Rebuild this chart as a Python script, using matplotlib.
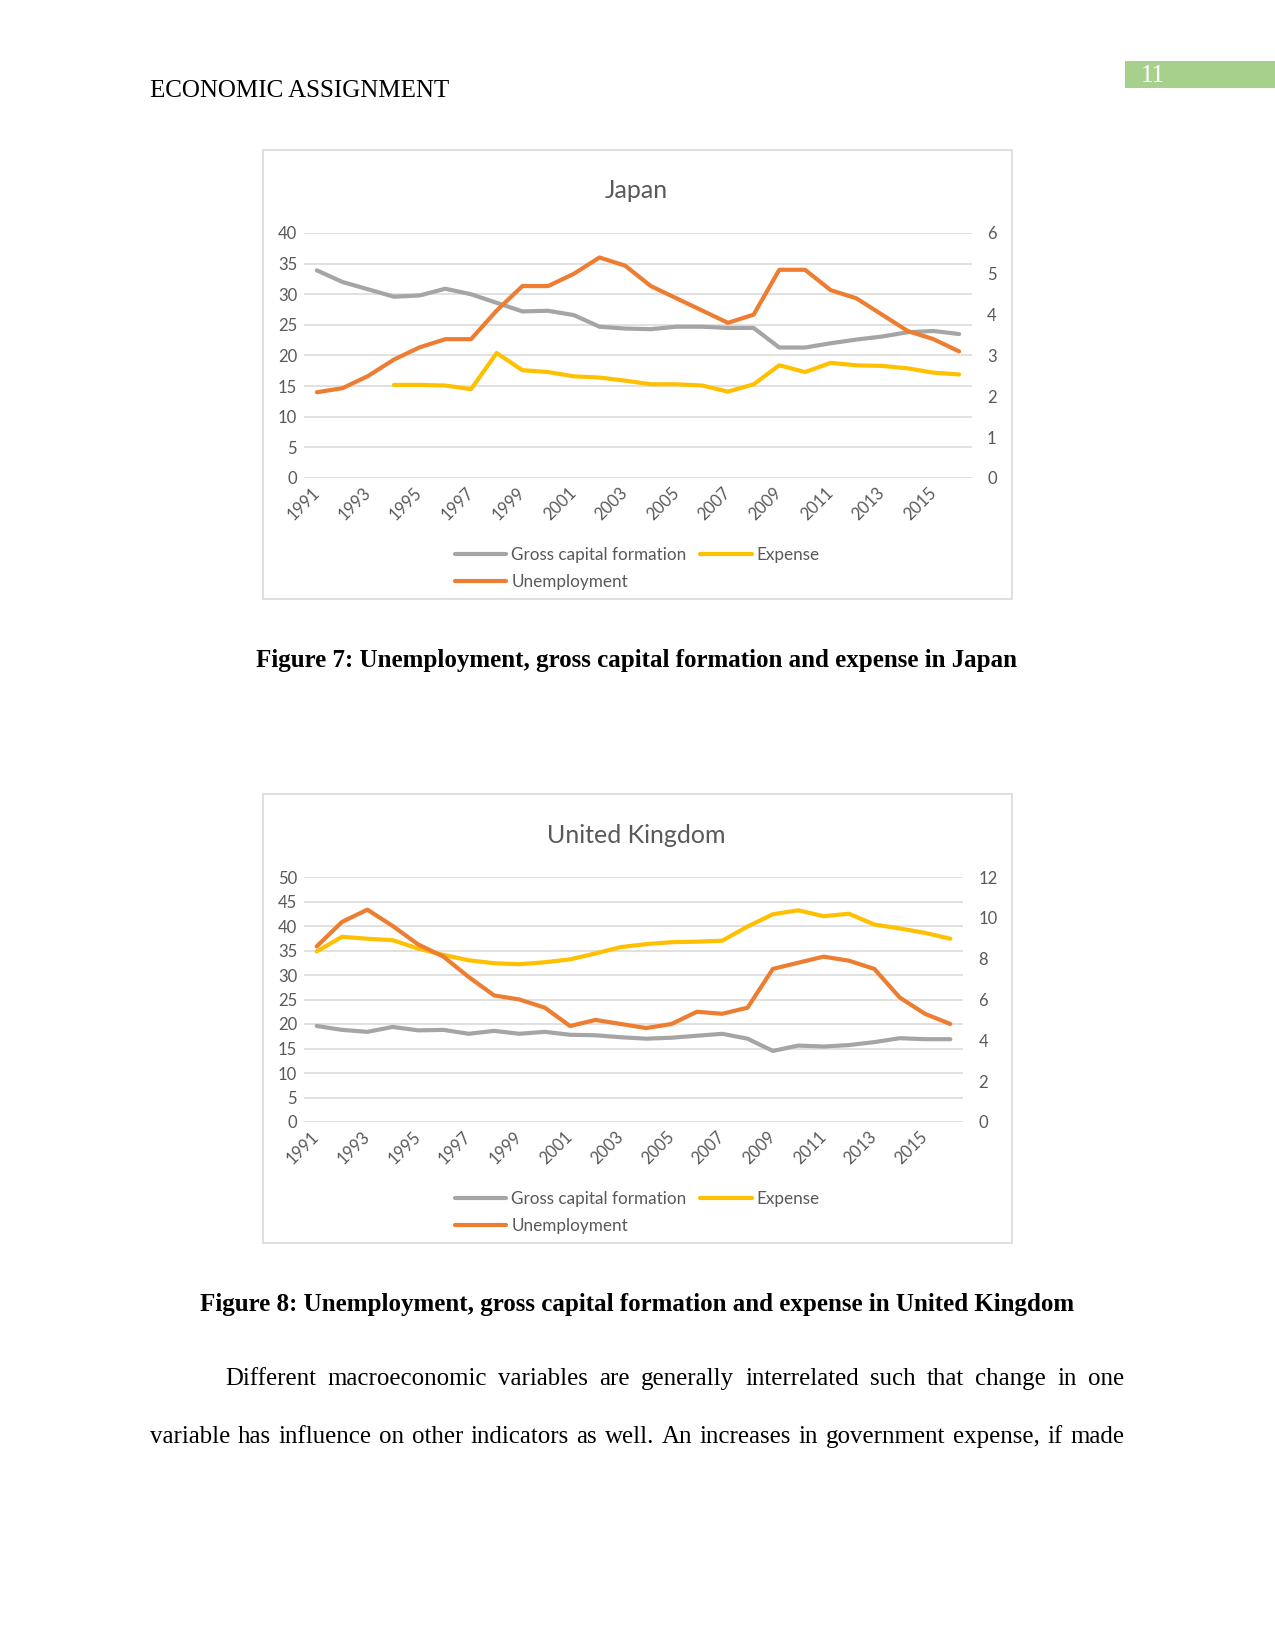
import matplotlib
matplotlib.use("Agg")
import matplotlib.pyplot as plt
from matplotlib.patches import Rectangle
import numpy as np

nan = np.nan
years = list(range(1991, 2017))
year_labels = [str(y) for y in range(1991, 2016, 2)]

jp_gcf = [33.9, 32.0, 30.8, 29.6, 29.8, 30.9, 30.0, 28.6, 27.2, 27.3, 26.6, 24.7, 24.4,
          24.3, 24.7, 24.7, 24.5, 24.5, 21.3, 21.3, 22.0, 22.6, 23.1, 23.8, 24.0, 23.5]
jp_expense = [nan, nan, nan, 15.2, 15.2, 15.1, 14.5, 20.4, 17.6, 17.3, 16.6, 16.4, 15.9,
              15.3, 15.3, 15.1, 14.1, 15.3, 18.4, 17.3, 18.8, 18.4, 18.3, 17.9, 17.2, 16.9]
jp_unemp = [2.1, 2.2, 2.5, 2.9, 3.2, 3.4, 3.4, 4.1, 4.7, 4.7, 5.0, 5.4, 5.2,
            4.7, 4.4, 4.1, 3.8, 4.0, 5.1, 5.1, 4.6, 4.4, 4.0, 3.6, 3.4, 3.1]

uk_gcf = [19.6, 18.8, 18.4, 19.4, 18.7, 18.8, 18.0, 18.6, 18.0, 18.4, 17.8, 17.7, 17.3,
          17.0, 17.2, 17.6, 18.0, 17.0, 14.5, 15.6, 15.4, 15.7, 16.3, 17.1, 16.9, 16.9]
uk_expense = [34.8, 37.8, 37.4, 37.1, 35.4, 34.1, 33.0, 32.4, 32.2, 32.6, 33.2, 34.4, 35.7,
              36.3, 36.7, 36.8, 37.0, 39.9, 42.4, 43.2, 42.0, 42.5, 40.3, 39.5, 38.6, 37.4]
uk_unemp = [8.6, 9.8, 10.4, 9.6, 8.7, 8.1, 7.1, 6.2, 6.0, 5.6, 4.7, 5.0, 4.8,
            4.6, 4.8, 5.4, 5.3, 5.6, 7.5, 7.8, 8.1, 7.9, 7.5, 6.1, 5.3, 4.8]

series_names = ["Gross capital formation", "Expense", "Unemployment"]
header_text = "ECONOMIC ASSIGNMENT"
page_number = "11"
caption7 = "Figure 7: Unemployment, gross capital formation and expense in Japan"
caption8 = "Figure 8: Unemployment, gross capital formation and expense in United Kingdom"
body_line1 = "Different macroeconomic variables are generally interrelated such that change in one"
body_line2 = "variable has influence on other indicators as well. An increases in government expense, if made"

W, H = 1275, 1650
C_GRAY, C_YEL, C_ORG = "#a5a5a5", "#ffc000", "#ed7d31"
TXT = "#595959"
GRID = "#d9d9d9"
SANS = "Lato"
SERIF = "Liberation Serif"

fig = plt.figure(figsize=(W / 100, H / 100), dpi=100)
fig.patch.set_facecolor("white")
renderer = fig.canvas.get_renderer()


def fy(y):
    return 1 - y / H


def fit_text(s, x, y, width, ha="left", weight="normal", color="black", base=18):
    t = fig.text(x / W, fy(y), s, fontsize=base, family=SERIF, weight=weight,
                 ha=ha, va="center", color=color)
    w = t.get_window_extent(renderer).width
    t.set_fontsize(base * width / w)
    return t


def justify(s, x0, x1, y, fs):
    words = s.split()
    ts = [fig.text(0, fy(y), w, fontsize=fs, family=SERIF, va="center", ha="left")
          for w in words]
    widths = [t.get_window_extent(renderer).width for t in ts]
    gap = (x1 - x0 - sum(widths)) / (len(words) - 1)
    x = x0
    for t, w in zip(ts, widths):
        t.set_x(x / W)
        x += w + gap


def chart(top, right, title, gcf, expense, unemp, lmax, lstep, rmax, rstep, rpad):
    box_top = top
    fig.add_artist(Rectangle((263 / W, fy(box_top + 449)), (1012 - 263) / W, 449 / H,
                             transform=fig.transFigure, fill=False, ec=GRID, lw=1.2))
    fig.text(636 / W, fy(box_top + 41), title, fontsize=18, family=SANS, color=TXT,
             ha="center", va="center")
    g_top, g_bot = box_top + 83, box_top + 328
    ax = fig.add_axes([304 / W, fy(g_bot), (right - 304) / W, (g_bot - g_top) / H])
    x = np.arange(len(years))
    l1, = ax.plot(x, gcf, color=C_GRAY, lw=3, solid_capstyle="round", solid_joinstyle="round")
    l2, = ax.plot(x, expense, color=C_YEL, lw=3, solid_capstyle="round", solid_joinstyle="round")
    ax.set_xlim(-0.5, len(years) - 0.5)
    ax.set_ylim(0, lmax)
    ax.set_yticks(np.arange(0, lmax + 0.1, lstep))
    ax.set_xticks(np.arange(0, len(years), 2))
    ax.set_xticklabels(year_labels, rotation=45, ha="right", va="center",
                       rotation_mode="anchor")
    ax.yaxis.grid(True, color=GRID, lw=1.1)
    ax.set_axisbelow(True)
    ax2 = ax.twinx()
    l3, = ax2.plot(x, unemp, color=C_ORG, lw=3, solid_capstyle="round", solid_joinstyle="round")
    ax2.set_ylim(0, rmax)
    ax2.set_yticks(np.arange(0, rmax + 0.01, rstep))
    for a in (ax, ax2):
        for sp in a.spines.values():
            sp.set_visible(False)
        a.tick_params(length=0, labelsize=12, labelcolor=TXT)
        for lab in a.get_xticklabels() + a.get_yticklabels():
            lab.set_family(SANS)
    ax.tick_params(axis="y", pad=5.0)
    ax.tick_params(axis="x", pad=9.0)
    ax2.tick_params(axis="y", pad=rpad)
    fig.legend([l1, l3, l2], [series_names[0], series_names[2], series_names[1]],
               ncol=2, loc="upper left", bbox_to_anchor=(455 / W, fy(box_top + 397)),
               frameon=False, handlelength=3.0, handletextpad=0.3, columnspacing=0.8,
               labelspacing=0.62, borderpad=0, borderaxespad=0,
               prop={"family": SANS, "size": 12.3}, labelcolor=TXT)


chart(150, 972, "Japan", jp_gcf, jp_expense, jp_unemp, 40, 5, 6, 1, 10.8)
chart(794, 963, "United Kingdom", uk_gcf, uk_expense, uk_unemp, 50, 5, 12, 2, 11.0)

# page furniture
fig.add_artist(Rectangle((1125 / W, fy(88)), 150 / W, 27 / H, transform=fig.transFigure,
                         fc="#a8d08d", ec="none"))
fig.text(1141 / W, fy(76), page_number, fontsize=18, family=SERIF, color="white",
         ha="left", va="center")
fit_text(header_text, 150, 91, 299)
fit_text(caption7, 637, 661, 762, ha="center", weight="bold")
fit_text(caption8, 637, 1304, 875, ha="center", weight="bold")

t = fig.text(0, 0, body_line2, fontsize=18, family=SERIF)
w = t.get_window_extent(renderer).width
t.remove()
body_fs = 18 * 955 / w
justify(body_line1, 225, 1124, 1379, body_fs)
justify(body_line2, 150, 1124, 1437, body_fs)

fig.savefig("out.png", dpi=100)
